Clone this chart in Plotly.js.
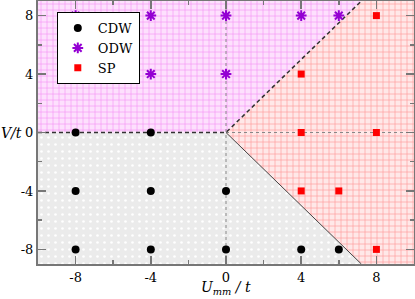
<!DOCTYPE html>
<html><head><meta charset="utf-8">
<script src="https://cdn.plot.ly/plotly-3.0.1.min.js"></script>
<style>html,body{margin:0;padding:0;background:#fff}#plot{width:415px;height:299px}</style>
</head><body><div id="plot"></div>
<script>
// Phase points
const cdwU = [-8, -4, -8, -4, 0, -8, -4, 0, 4, 6];
const cdwV = [0, 0, -4, -4, -4, -8, -8, -8, -8, -8];
const odwU = [-8, -4, 0, 4, 6, -8, -4, 0];
const odwV = [8, 8, 8, 8, 8, 4, 4, 4];
const spU = [8, 4, 4, 8, 4, 6, 8];
const spV = [8, 4, 0, 0, -4, -4, -8];
// Phase regions (polygons in data units)
const odwRegU = [-10, 0, 7.2, -10, -10];
const odwRegV = [0, 0, 9, 9, 0];
const spRegU = [0, 7.2, 10, 10, 7.2, 0];
const spRegV = [0, 9, 9, -9, -9, 0];
const cdwRegU = [-10, 0, 7.2, -10, -10];
const cdwRegV = [0, 0, -9, -9, 0];
// Phase boundaries
const dashU = [-10, 0, 7.2];
const dashV = [0, 0, 9];
const solidU = [0, 7.2];
const solidV = [0, -9];
const dotVU = [0, 0];
const dotVV = [-9, 9];
const dotHU = [0, 10];
const dotHV = [0, 0];
// Ticks
const tickVals = [-8, -4, 0, 4, 8];
const tickText = ['-8', '-4', '0', '4', '8'];

const serif = 'DejaVu Serif';
const traces = [
  {x: cdwRegU, y: cdwRegV, mode: 'lines', fill: 'toself', line: {width: 0}, fillcolor: '#ececec',
   fillpattern: {shape: '.', fgcolor: '#ffffff', bgcolor: '#ebebeb', size: 7, solidity: 0.12},
   showlegend: false, hoverinfo: 'skip'},
  {x: odwRegU, y: odwRegV, mode: 'lines', fill: 'toself', line: {width: 0}, fillcolor: '#f7c4f7',
   fillpattern: {shape: '+', fgcolor: '#f490f4', bgcolor: '#fde0fd', size: 6, solidity: 0.2},
   showlegend: false, hoverinfo: 'skip'},
  {x: spRegU, y: spRegV, mode: 'lines', fill: 'toself', line: {width: 0}, fillcolor: '#ffcccc',
   fillpattern: {shape: '+', fgcolor: '#ff9898', bgcolor: '#ffe8e8', size: 6, solidity: 0.2},
   showlegend: false, hoverinfo: 'skip'},
  {x: dotVU, y: dotVV, mode: 'lines', line: {color: '#888', width: 1, dash: 'dot'}, showlegend: false, hoverinfo: 'skip'},
  {x: dotHU, y: dotHV, mode: 'lines', line: {color: '#888', width: 1, dash: 'dot'}, showlegend: false, hoverinfo: 'skip'},
  {x: dashU, y: dashV, mode: 'lines', line: {color: '#333', width: 1.5, dash: '4px,3px'}, showlegend: false, hoverinfo: 'skip'},
  {x: solidU, y: solidV, mode: 'lines', line: {color: '#444', width: 1}, showlegend: false, hoverinfo: 'skip'},
  {x: cdwU, y: cdwV, mode: 'markers', name: 'CDW', marker: {symbol: 'circle', size: 8, color: '#000'}},
  {x: odwU, y: odwV, mode: 'markers', name: 'ODW', marker: {symbol: 'asterisk-open', size: 9, color: '#9400d3', line: {color: '#9400d3', width: 2}}},
  {x: spU, y: spV, mode: 'markers', name: 'SP', marker: {symbol: 'square', size: 7, color: '#ff0000'}}
];

const axisCommon = {
  showgrid: false, zeroline: false, showline: true, linecolor: '#777', linewidth: 2,
  mirror: 'allticks', ticks: 'inside', ticklen: 8, tickwidth: 1.5, tickcolor: '#777',
  tickvals: tickVals, ticktext: tickText, tickfont: {family: serif, size: 13, color: '#000'},
  minor: {tickvals: [-6, -2, 2, 6], ticks: 'inside', ticklen: 4, tickwidth: 1.5, tickcolor: '#777'}
};

const layout = {
  width: 415, height: 299,
  margin: {l: 38, r: 1, t: 1, b: 35},
  paper_bgcolor: '#fff', plot_bgcolor: '#fff',
  font: {family: serif},
  xaxis: Object.assign({}, axisCommon, {range: [-10, 10]}),
  yaxis: Object.assign({}, axisCommon, {range: [-9, 9]}),
  showlegend: true,
  legend: {x: 0.05, y: 0.958, xanchor: 'left', yanchor: 'top', bgcolor: '#fff', bordercolor: '#000', borderwidth: 1,
    font: {family: serif, size: 13, color: '#000'}, tracegroupgap: 0, itemwidth: 30},
  annotations: [
    {text: '<i>V/t</i>', xref: 'paper', yref: 'y', x: -0.036, y: 0, xanchor: 'right', yanchor: 'middle', showarrow: false,
     font: {family: serif, size: 14, color: '#000'}},
    {text: '<i>U</i><sub><i>mm</i></sub><i> / t</i>', xref: 'x', yref: 'paper', x: 0, y: -0.09, xanchor: 'center', yanchor: 'middle', showarrow: false,
     font: {family: serif, size: 14, color: '#000'}}
  ]
};

Plotly.newPlot('plot', traces, layout, {staticPlot: true, displayModeBar: false});
</script></body></html>
